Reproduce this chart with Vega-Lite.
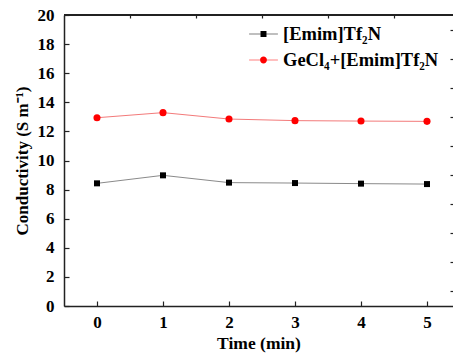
{
  "$schema": "https://vega.github.io/schema/vega-lite/v6.json",
  "width": 389,
  "height": 291,
  "autosize": {"type": "none"},
  "padding": {"left": 64, "top": 15, "right": 0, "bottom": 52},
  "background": "white",
  "config": {"view": {"stroke": null}, "font": "Liberation Serif"},
  "data": {
    "values": [
      {"time": 0, "value": 8.43, "series": "[Emim]Tf₂N"},
      {"time": 1, "value": 8.98, "series": "[Emim]Tf₂N"},
      {"time": 2, "value": 8.48, "series": "[Emim]Tf₂N"},
      {"time": 3, "value": 8.45, "series": "[Emim]Tf₂N"},
      {"time": 4, "value": 8.41, "series": "[Emim]Tf₂N"},
      {"time": 5, "value": 8.38, "series": "[Emim]Tf₂N"},
      {"time": 0, "value": 12.94, "series": "GeCl₄+[Emim]Tf₂N"},
      {"time": 1, "value": 13.29, "series": "GeCl₄+[Emim]Tf₂N"},
      {"time": 2, "value": 12.85, "series": "GeCl₄+[Emim]Tf₂N"},
      {"time": 3, "value": 12.74, "series": "GeCl₄+[Emim]Tf₂N"},
      {"time": 4, "value": 12.71, "series": "GeCl₄+[Emim]Tf₂N"},
      {"time": 5, "value": 12.69, "series": "GeCl₄+[Emim]Tf₂N"}
    ]
  },
  "layer": [
    {
      "mark": {"type": "rule", "color": "#222222", "strokeWidth": 1.5},
      "encoding": {"y": {"datum": 20, "type": "quantitative", "axis": null}}
    },
    {
      "transform": [{"filter": "datum.series === '[Emim]Tf₂N'"}],
      "mark": {"type": "line", "strokeWidth": 1, "color": "#8a8a8a"},
      "encoding": {
        "x": {
          "field": "time", "type": "quantitative",
          "scale": {"domain": [-0.5, 5.394], "nice": false, "zero": false},
          "axis": {
            "values": [0, 1, 2, 3, 4, 5], "tickSize": -5, "tickColor": "#222222", "tickWidth": 1.2,
            "domainColor": "#222222", "domainWidth": 1.5, "grid": false,
            "labelFont": "Liberation Serif", "labelFontWeight": "bold", "labelFontSize": 17, "labelColor": "#000000",
            "labelPadding": 13, "labelFlush": false,
            "title": "Time (min)", "titleFont": "Liberation Serif", "titleFontWeight": "bold", "titleFontSize": 17.5,
            "titleColor": "#000000", "titlePadding": 4
          }
        },
        "y": {
          "field": "value", "type": "quantitative",
          "scale": {"domain": [0, 20], "nice": false},
          "axis": {
            "values": [0, 2, 4, 6, 8, 10, 12, 14, 16, 18, 20], "tickSize": -5, "tickColor": "#222222", "tickWidth": 1.2,
            "domainColor": "#222222", "domainWidth": 1.5, "grid": false,
            "labelFont": "Liberation Serif", "labelFontWeight": "bold", "labelFontSize": 17, "labelColor": "#000000",
            "labelPadding": 15, "labelFlush": false,
            "title": "Conductivity (S m⁻¹)", "titleFont": "Liberation Serif", "titleFontWeight": "bold", "titleFontSize": 17,
            "titleColor": "#000000", "titlePadding": 6
          }
        }
      }
    },
    {
      "transform": [{"filter": "datum.series === 'GeCl₄+[Emim]Tf₂N'"}],
      "mark": {"type": "line", "strokeWidth": 1, "color": "#f37a7a"},
      "encoding": {
        "x": {"field": "time", "type": "quantitative", "axis": null},
        "y": {"field": "value", "type": "quantitative", "axis": null}
      }
    },
    {
      "transform": [{"filter": "datum.series === '[Emim]Tf₂N'"}],
      "mark": {"type": "point", "shape": "square", "filled": true, "opacity": 1, "color": "#000000", "size": 36, "strokeWidth": 0},
      "encoding": {
        "x": {"field": "time", "type": "quantitative", "axis": null},
        "y": {"field": "value", "type": "quantitative", "axis": null}
      }
    },
    {
      "transform": [{"filter": "datum.series === 'GeCl₄+[Emim]Tf₂N'"}],
      "mark": {"type": "point", "shape": "circle", "filled": true, "opacity": 1, "color": "#ff0000", "size": 50, "strokeWidth": 0},
      "encoding": {
        "x": {"field": "time", "type": "quantitative", "axis": null},
        "y": {"field": "value", "type": "quantitative", "axis": null}
      }
    },
    {
      "transform": [{"filter": "datum.time < -100"}],
      "mark": {"type": "point", "filled": true, "opacity": 1, "size": 346, "strokeWidth": 0},
      "encoding": {
        "x": {"field": "time", "type": "quantitative", "axis": null},
        "y": {"field": "value", "type": "quantitative", "axis": null},
        "fill": {
          "field": "series", "type": "nominal",
          "scale": {"domain": ["[Emim]Tf₂N", "GeCl₄+[Emim]Tf₂N"], "range": ["#000000", "#ff0000"]},
          "legend": {
            "orient": "none", "legendX": 190, "legendY": 9.5, "title": null, "padding": 0,
            "symbolSize": 346, "symbolOpacity": 1, "symbolStrokeWidth": 0, "labelOffset": 10, "rowPadding": 7,
            "labelFont": "Liberation Serif", "labelFontWeight": "bold", "labelFontSize": 18.5, "labelColor": "#000000"
          }
        },
        "shape": {
          "field": "series", "type": "nominal",
          "scale": {
            "domain": ["[Emim]Tf₂N", "GeCl₄+[Emim]Tf₂N"],
            "range": [
              "M-1.55,-0.03H-0.32V0.03H-1.55ZM0.32,-0.03H1.55V0.03H0.32ZM-0.32,-0.32H0.32V0.32H-0.32Z",
              "M-1.55,-0.03H-0.37V0.03H-1.55ZM0.37,-0.03H1.55V0.03H0.37ZM-0.37,0A0.37,0.37,0,1,0,0.37,0A0.37,0.37,0,1,0,-0.37,0Z"
            ]
          }
        }
      }
    },
    {
      "mark": {"type": "point", "opacity": 0},
      "encoding": {
        "x": {
          "field": "time", "type": "quantitative",
          "axis": {"values": [0.5, 1.5, 2.5, 3.5, 4.5], "tickSize": -3, "tickColor": "#222222", "tickWidth": 1.2, "labels": false, "domain": false, "grid": false, "title": null}
        },
        "y": {
          "field": "value", "type": "quantitative",
          "axis": {"values": [1, 3, 5, 7, 9, 11, 13, 15, 17, 19], "tickSize": -3, "tickColor": "#222222", "tickWidth": 1.2, "labels": false, "domain": false, "grid": false, "title": null}
        }
      }
    }
  ],
  "resolve": {"axis": {"x": "independent", "y": "independent"}}
}
